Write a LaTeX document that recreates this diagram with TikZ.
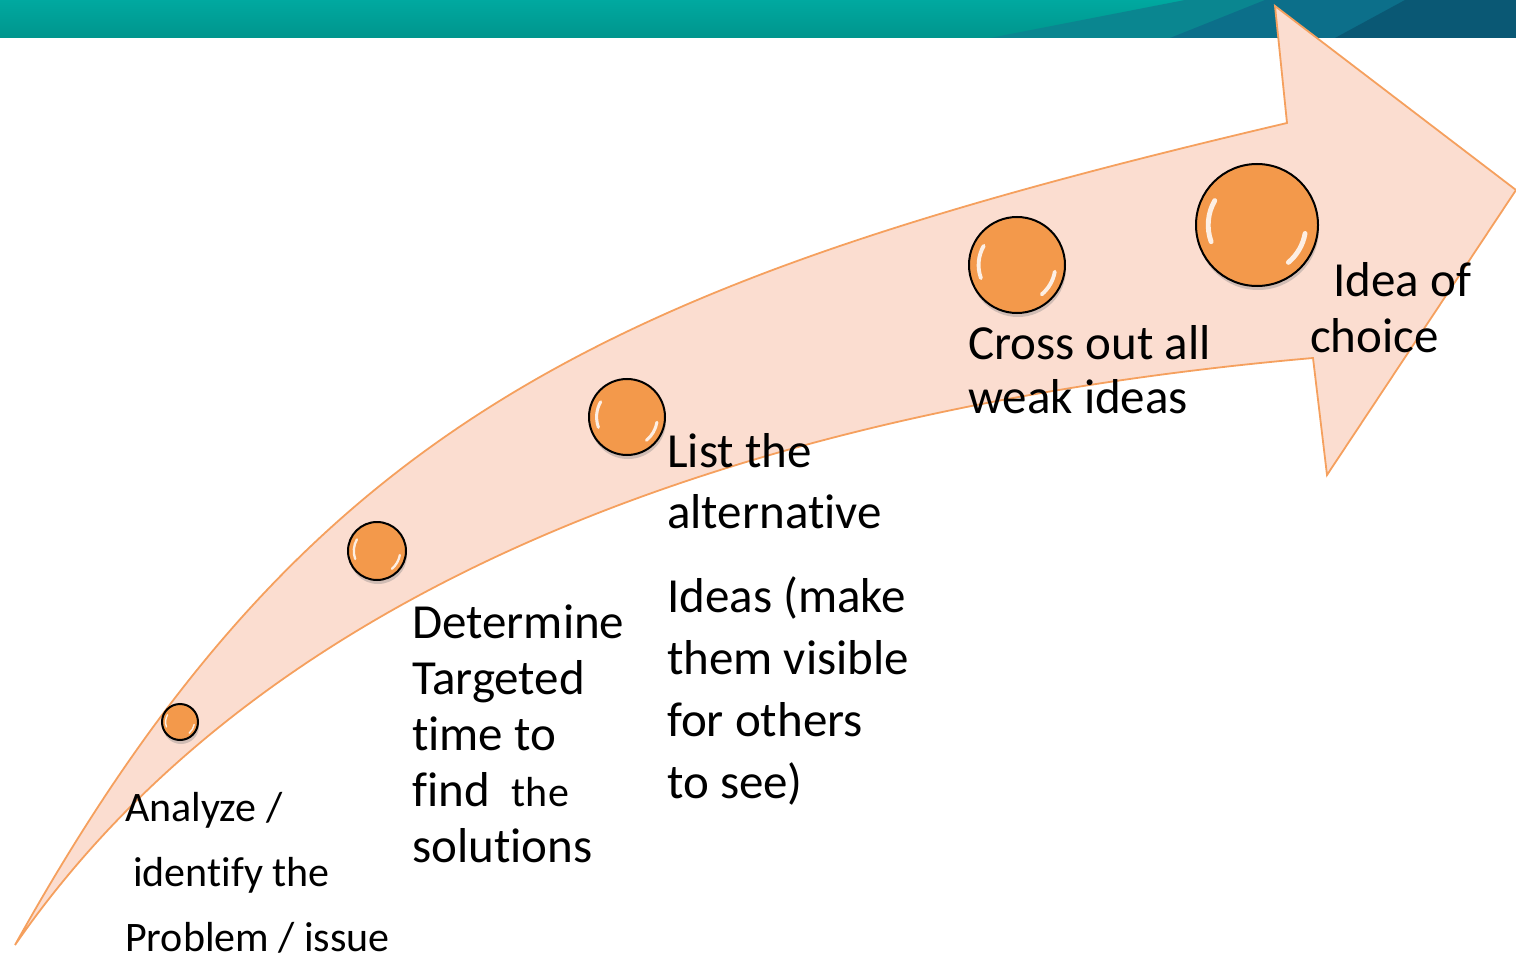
\documentclass[tikz,border=0pt]{standalone}
\usepackage{fontspec}
\setmainfont{Carlito}[Ligatures={NoCommon}]
\usetikzlibrary{shadows,calc}

\definecolor{barteal}{HTML}{00A9A0}
\definecolor{bartealdark}{HTML}{00958D}
\definecolor{barmid}{HTML}{0A8690}
\definecolor{barblue}{HTML}{0C6F8A}
\definecolor{bardeep}{HTML}{0A5874}
\definecolor{arrowfill}{HTML}{FBDDD0}
\definecolor{arrowline}{HTML}{F5A05E}
\definecolor{ballorange}{HTML}{F3994B}

\begin{document}
\begin{tikzpicture}[x=1pt,y=-1pt,
    bigtext/.style={font=\fontsize{49}{#1}\selectfont, align=left, anchor=base west, inner sep=0pt},
    smalltext/.style={font=\fontsize{42}{#1}\selectfont, align=left, anchor=base west, inner sep=0pt},
    ball/.style={circle, draw=black, line width=2pt, fill=ballorange, inner sep=0pt,
        drop shadow={shadow xshift=1pt, shadow yshift=-4pt, opacity=.35}},
    gloss/.style={white, opacity=.85, line cap=round}]

    \useasboundingbox (0,0) rectangle (1516,960);

    % banner
    \shade[top color=barteal, bottom color=bartealdark] (0,0) rectangle (1516,38);
    \fill[barmid] (990,38) -- (1185,0) -- (1516,0) -- (1516,38) -- cycle;
    \fill[barblue] (1170,38) -- (1265,0) -- (1516,0) -- (1516,38) -- cycle;
    \fill[bardeep] (1335,38) -- (1405,0) -- (1516,0) -- (1516,38) -- cycle;

    % curved arrow
    \draw[fill=arrowfill, draw=arrowline, line width=1.8pt, line join=miter]
        (15,945) .. controls (307,421) and (606,283) .. (1287,123)
        -- (1275,6) -- (1516,190) -- (1327,475) -- (1313,358)
        .. controls (765,406) and (271,575) .. (15,945) -- cycle;

    % steps
    \foreach \i/\x/\y/\r in {1/180/722/18, 2/377/551/29, 3/627/417/38, 4/1017/265/48, 5/1257/225/61}{
        \node[ball, minimum size=2*\r pt] (b\i) at (\x,\y) {};
        \draw[gloss, line width=0.08*\r pt] ($(b\i.center)+(150:0.8*\r pt)$) arc[start angle=150, end angle=200, radius=0.8*\r pt];
        \draw[gloss, line width=0.08*\r pt] ($(b\i.center)+(-10:0.8*\r pt)$) arc[start angle=-10, end angle=-50, radius=0.8*\r pt];
    }

    \node[smalltext=65] (analyze) at (125,951) {Analyze /\\\hspace*{8pt}identify the\\Problem / issue};
    \node[bigtext=56] (target) at (412,862) {Determine\\Targeted\\time to\\find\hspace{22pt}{\fontsize{42}{56}\selectfont the}\\solutions};
    \node[bigtext=61] (list) at (667,528) {List the\\alternative};
    \node[bigtext=62] (ideas) at (667,798) {Ideas (make\\them visible\\for others\\to see)};
    \node[bigtext=54] (cross) at (968,413) {Cross out all\\weak ideas};
    \node[bigtext=56] (choice) at (1310,352) {\hspace*{23pt}Idea of\\choice};

\end{tikzpicture}
\end{document}
